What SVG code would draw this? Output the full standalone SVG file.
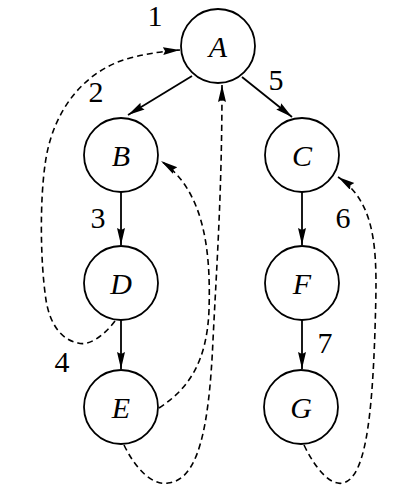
<svg xmlns="http://www.w3.org/2000/svg" width="410" height="502" viewBox="0 0 410 502">
<defs>
<marker id="ah" markerUnits="userSpaceOnUse" markerWidth="18" markerHeight="9" refX="17" refY="4" orient="auto">
<path d="M0,0 L17,4 L0,8 L2,4 Z" fill="#000"/>
</marker>
<style>
.node circle{fill:#fff;stroke:#000;stroke-width:1.8}
.tree{fill:none;stroke:#000;stroke-width:1.8;marker-end:url(#ah)}
.back{fill:none;stroke:#000;stroke-width:1.6;stroke-dasharray:6,4;marker-end:url(#ah)}
</style>
</defs>
<rect width="410" height="502" fill="#fff"/>
<g id="connectors">
<path class="tree" d="M192,76 L128,115"/>
<path class="tree" d="M242,77 L292,117"/>
<path class="tree" d="M121,192 L121,245"/>
<path class="tree" d="M302,192 L302,245"/>
<path class="tree" d="M121,320 L121,369"/>
<path class="tree" d="M302,320 L302,369"/>
<path class="back" d="M115,321 C102,338 88,346 78,343 C62,340 50,325 46,300 C40,260 40,200 45,165 C52,110 85,70 130,58 C150,53 165,51 180,50"/>
<path class="back" d="M159,408 C190,388 207,360 209,310 C211,250 204,190 161,161"/>
<path class="back" d="M124,445 C135,468 152,486 168,483 C198,480 209,430 213,340 C217,260 222,190 222,85"/>
<path class="back" d="M304,445 C315,468 330,486 343,483 C365,478 372,420 375,330 C377,260 380,205 338,177"/>
</g>
<g font-family="'Liberation Serif','DejaVu Serif',serif" font-style="italic" font-size="30" text-anchor="middle">
<g id="A" class="node"><circle cx="218" cy="46" r="37"/><text x="218" y="57">A</text></g>
<g id="B" class="node"><circle cx="121" cy="155" r="37"/><text x="121" y="166">B</text></g>
<g id="C" class="node"><circle cx="302" cy="155" r="37"/><text x="302" y="166">C</text></g>
<g id="D" class="node"><circle cx="121" cy="283" r="37"/><text x="121" y="294">D</text></g>
<g id="F" class="node"><circle cx="302" cy="283" r="37"/><text x="302" y="294">F</text></g>
<g id="E" class="node"><circle cx="121" cy="407" r="37"/><text x="121" y="418">E</text></g>
<g id="G" class="node"><circle cx="301" cy="407" r="37"/><text x="301" y="418">G</text></g>
</g>
<g id="labels" font-family="'Liberation Serif','DejaVu Serif',serif" font-size="30" text-anchor="middle">
<text x="155" y="26">1</text>
<text x="96" y="102">2</text>
<text x="98" y="228">3</text>
<text x="62" y="372">4</text>
<text x="276" y="90">5</text>
<text x="343" y="228">6</text>
<text x="325" y="353">7</text>
</g>
</svg>
